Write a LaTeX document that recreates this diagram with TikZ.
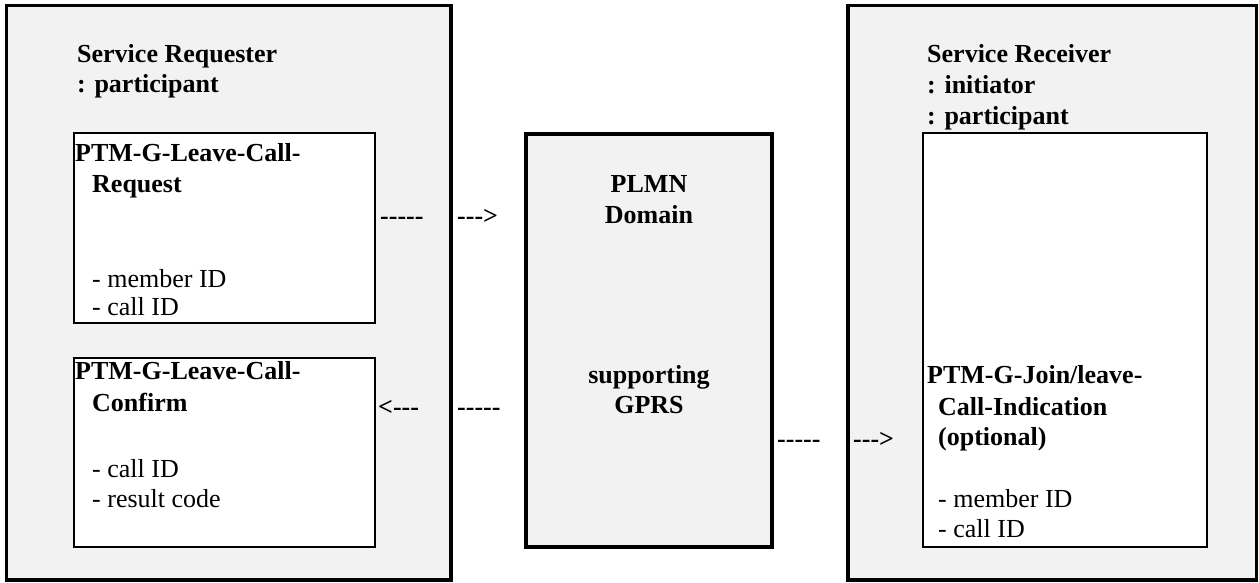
\documentclass[tikz,border=0pt]{standalone}
\usepackage{fontspec}
\setmainfont{Liberation Serif}
\definecolor{boxgray}{HTML}{F2F2F2}
\begin{document}
\begin{tikzpicture}[x=1pt,y=-1pt,
  outerbox/.style={draw=black, line width=3.5pt, fill=boxgray, inner sep=0pt},
  innerbox/.style={draw=black, line width=1.8pt, fill=white, inner sep=0pt},
  midbox/.style={draw=black, line width=4pt, fill=boxgray, inner sep=0pt},
  bl/.style={anchor=base west, inner sep=0pt, font=\fontsize{26}{31}\selectfont\bfseries},
  rl/.style={anchor=base west, inner sep=0pt, font=\fontsize{26}{31}\selectfont},
  cl/.style={anchor=base, inner sep=0pt, font=\fontsize{26}{31}\selectfont\bfseries},
]
\useasboundingbox (0,0) rectangle (1259,583);
% boxes
\node[outerbox, minimum width=444.5pt, minimum height=574.5pt] (req) at (228.75,292.75) {};
\node[outerbox, minimum width=408.5pt, minimum height=574.5pt] (rec) at (1052.25,292.75) {};
\node[midbox, minimum width=246pt, minimum height=413pt] (plmn) at (649,340.5) {};
\node[innerbox, minimum width=301pt, minimum height=190pt] (reqbox) at (224.5,228) {};
\node[innerbox, minimum width=301pt, minimum height=189pt] (confbox) at (224.5,452.5) {};
\node[innerbox, minimum width=284pt, minimum height=414pt] (indbox) at (1065,340) {};
% left texts
\node[bl] (t1) at (77,63) {Service Requester};
\node[bl] (t2) at (77,93) {: participant};
\node[bl] (t3) at (75,162) {PTM-G-Leave-Call-};
\node[bl] (t4) at (92,193) {Request};
\node[rl] (t5) at (92,287) {- member ID};
\node[rl] (t6) at (92,315) {- call ID};
\node[bl] (t7) at (75,379) {PTM-G-Leave-Call-};
\node[bl] (t8) at (92,411) {Confirm};
\node[rl] (t9) at (92,477) {- call ID};
\node[rl] (t10) at (92,507) {- result code};
% middle texts
\node[cl] (m1) at (649,193) {PLMN};
\node[cl] (m2) at (649,223) {Domain};
\node[cl] (m3) at (649,383) {supporting};
\node[cl] (m4) at (649,413) {GPRS};
% right texts
\node[bl] (r1) at (927,63) {Service Receiver};
\node[bl] (r2) at (927,94) {: initiator};
\node[bl] (r3) at (927,125) {: participant};
\node[bl] (r4) at (927,383) {PTM-G-Join/leave-};
\node[bl] (r5) at (938,415) {Call-Indication};
\node[bl] (r6) at (938,445) {(optional)};
\node[rl] (r7) at (938,507) {- member ID};
\node[rl] (r8) at (938,537) {- call ID};
% dashed arrows (printed as text)
\node[bl] (d1) at (380,225) {-{}-{}-{}-{}-};
\node[bl] (d2) at (457,225) {-{}-{}->};
\node[bl] (d3) at (378,415) {<-{}-{}-};
\node[bl] (d4) at (457,415) {-{}-{}-{}-{}-};
\node[bl] (d5) at (777,447) {-{}-{}-{}-{}-};
\node[bl] (d6) at (853,447) {-{}-{}->};
\end{tikzpicture}
\end{document}
